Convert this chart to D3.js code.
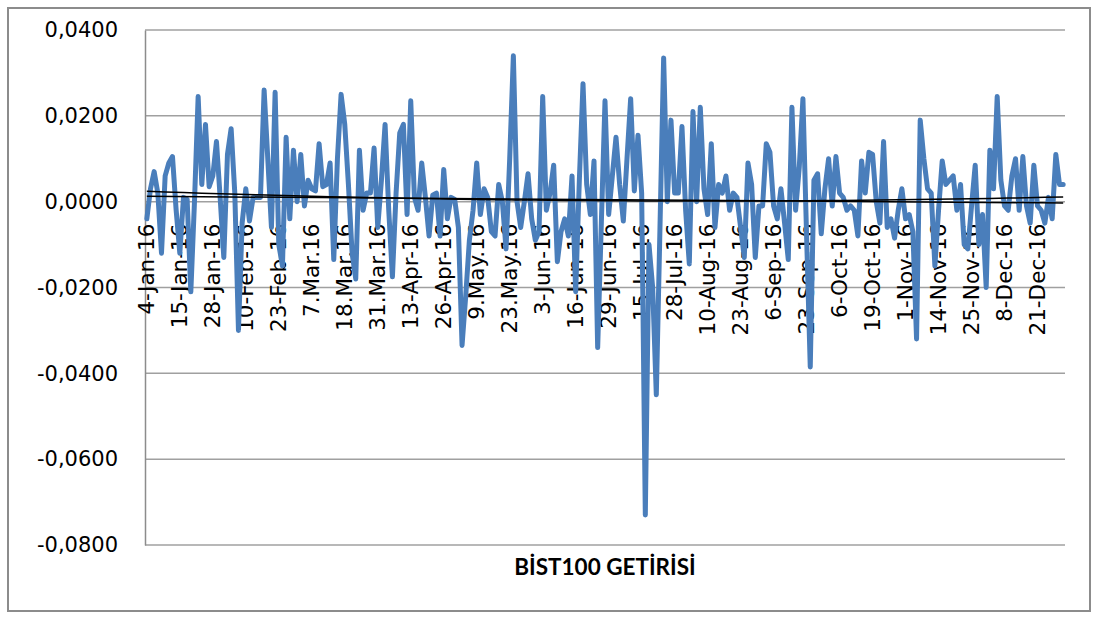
<!DOCTYPE html>
<html>
<head>
<meta charset="utf-8">
<script src="https://cdn.jsdelivr.net/npm/d3@7"></script>
<style>
  body { margin: 0; background: #fff; }
  svg text { font-family: "DejaVu Sans", sans-serif; fill: #000; }
</style>
</head>
<body>
<div id="chart"></div>
<script>
// daily BIST100 returns, 2016
const returns = [
  -0.004, 0.003, 0.007, 0.002, -0.012, 0.006, 0.009, 0.0105, -0.002, -0.012,
  0.001, 0.0005, -0.021, 0.000, 0.0245, 0.004, 0.018, 0.0035, 0.006, 0.014,
  0.001, -0.013, 0.011, 0.017, 0.002, -0.030, -0.005, 0.003, -0.0045, 0.001,
  0.001, 0.001, 0.026, 0.010, -0.006, 0.0255, -0.010, -0.015, 0.015, -0.004,
  0.012, 0.000, 0.011, -0.001, 0.005, 0.003, 0.0025, 0.0135, 0.0035, 0.004,
  0.009, -0.0135, 0.010, 0.025, 0.018, 0.004, -0.012, -0.018, 0.012, -0.002,
  0.002, 0.002, 0.0125, -0.006, 0.005, 0.018, -0.002, -0.0175, 0.002, 0.016,
  0.018, -0.003, 0.0235, 0.001, -0.002, 0.009, 0.001, -0.008, 0.0015, 0.002,
  -0.008, 0.0075, -0.004, 0.001, 0.0005, -0.006, -0.0335, -0.022, -0.009, -0.002,
  0.009, -0.003, 0.003, 0.001, -0.007, -0.008, 0.004, 0.000, -0.011, 0.010,
  0.034, 0.000, -0.006, 0.000, 0.0065, -0.004, -0.009, -0.007, 0.0245, -0.002,
  0.002, 0.0085, -0.014, -0.007, -0.004, -0.008, 0.006, -0.021, 0.005, 0.0275,
  0.004, -0.003, 0.0095, -0.034, -0.005, 0.0235, -0.003, 0.006, 0.015, 0.004,
  -0.0045, 0.010, 0.024, 0.0025, 0.0155, 0.002, -0.073, -0.010, -0.020, -0.045,
  -0.006, 0.0335, 0.000, 0.019, 0.002, 0.002, 0.0175, -0.002, -0.0145, 0.021,
  0.000, 0.022, 0.003, -0.003, 0.0135, -0.006, 0.004, 0.002, 0.006, -0.002,
  0.002, 0.001, -0.006, -0.013, 0.009, 0.004, -0.013, -0.001, -0.001, 0.0135,
  0.0115, -0.001, -0.004, 0.003, -0.005, -0.0135, 0.022, -0.002, 0.008, 0.024,
  -0.008, -0.0385, 0.005, 0.0065, -0.0075, 0.003, 0.010, -0.001, 0.0105, 0.002,
  0.001, -0.002, -0.001, -0.002, -0.008, 0.0095, 0.002, 0.0115, 0.011, 0.000,
  -0.005, 0.014, -0.006, -0.004, -0.0085, -0.002, 0.003, -0.004, -0.003, -0.007,
  -0.032, 0.019, 0.010, 0.003, 0.002, -0.015, -0.002, 0.0095, 0.004, 0.005,
  0.006, -0.002, 0.004, -0.010, -0.011, -0.001, 0.0085, -0.010, -0.003, -0.020,
  0.012, 0.003, 0.0245, 0.005, -0.001, -0.002, 0.006, 0.010, -0.002, 0.0105,
  -0.001, -0.005, 0.0085, -0.001, -0.002, -0.005, 0.001, -0.004, 0.011, 0.004,
  0.004
];

// category labels shown on the axis (one every 9 trading days)
const tickLabels = [
  "4-Jan-16", "15-Jan-16", "28-Jan-16", "10-Feb-16", "23-Feb-16", "7.Mar.16",
  "18.Mar.16", "31.Mar.16", "13-Apr-16", "26-Apr-16", "9.May.16", "23.May.16",
  "3-Jun-16", "16-Jun-16", "29-Jun-16", "15-Jul-16", "28-Jul-16", "10-Aug-16",
  "23-Aug-16", "6-Sep-16", "23-Sep-16", "6-Oct-16", "19-Oct-16", "1-Nov-16",
  "14-Nov-16", "25-Nov-16", "8-Dec-16", "21-Dec-16"
];
const labelStep = 9;

const yTicks = [-0.08, -0.06, -0.04, -0.02, 0, 0.02, 0.04];

// trend lines: linear (first, last) and 2nd order polynomial (first, middle, last)
const linearTrend = [0.00124, -0.0003];
const polyTrend = [0.0024, 0.00022, 0.0011];

const title = "BİST100 GETİRİSİ";

const width = 1097;
const height = 617;
const margin = { top: 30, right: 32, bottom: 72, left: 145 };

const svg = d3
  .select("#chart")
  .append("svg")
  .attr("width", width)
  .attr("height", height);

// outer chart border
svg
  .append("rect")
  .attr("x", 8)
  .attr("y", 8)
  .attr("width", 1082)
  .attr("height", 603)
  .attr("fill", "none")
  .attr("stroke", "#8c8c8c")
  .attr("stroke-width", 2);

const n = returns.length;
const x = d3
  .scaleBand()
  .domain(d3.range(n))
  .range([margin.left, width - margin.right]);
const cx = (i) => x(i) + x.bandwidth() / 2;

const y = d3
  .scaleLinear()
  .domain([-0.08, 0.04])
  .range([height - margin.bottom, margin.top]);

const trLocale = d3.formatLocale({
  decimal: ",",
  thousands: ".",
  grouping: [3],
  currency: ["", ""],
  minus: "-",
});
const fmt = trLocale.format(".4f");

// gridlines
svg
  .append("g")
  .selectAll("line")
  .data(yTicks)
  .enter()
  .append("line")
  .attr("x1", margin.left)
  .attr("x2", width - margin.right)
  .attr("y1", (d) => y(d))
  .attr("y2", (d) => y(d))
  .attr("stroke", "#a0a0a0")
  .attr("stroke-width", 1.5);

// y axis
const yAxis = d3.axisLeft(y).tickValues(yTicks).tickFormat(fmt).tickSize(0).tickPadding(27);
const gy = svg
  .append("g")
  .attr("transform", `translate(${margin.left}, 0)`)
  .call(yAxis);
gy.select(".domain").attr("stroke", "#8c8c8c").attr("stroke-width", 1.5);
gy.selectAll("text").style("font-size", "21px").style("font-family", "DejaVu Sans");

// x axis (crosses at zero), labels hang below it
const labelIdx = tickLabels.map((d, k) => k * labelStep);
const xAxis = d3
  .axisBottom(x)
  .tickValues(labelIdx)
  .tickFormat((d) => tickLabels[d / labelStep])
  .tickSize(0);
const gx = svg
  .append("g")
  .attr("transform", `translate(0, ${y(0)})`)
  .call(xAxis);
gx.select(".domain").remove();
gx.selectAll("text")
  .attr("transform", "rotate(-90)")
  .attr("text-anchor", "end")
  .attr("x", -22)
  .attr("y", 0)
  .attr("dy", "0.35em")
  .style("font-size", "21.5px")
  .style("font-family", "DejaVu Sans");

// return series
const line = d3
  .line()
  .x((d, i) => cx(i))
  .y((d) => y(d));

svg
  .append("path")
  .datum(returns)
  .attr("d", line)
  .attr("fill", "none")
  .attr("stroke", "#4a7ebb")
  .attr("stroke-width", 5)
  .attr("stroke-linejoin", "round")
  .attr("stroke-linecap", "round");

// trend lines
const last = n - 1;
const linTrendPts = [
  [cx(0), y(linearTrend[0])],
  [cx(last), y(linearTrend[1])],
];
svg
  .append("path")
  .attr("d", d3.line()(linTrendPts))
  .attr("fill", "none")
  .attr("stroke", "#000")
  .attr("stroke-width", 1.5);

// quadratic through the three read values
const [p0, p1, p2] = polyTrend;
const quad = (t) =>
  p0 * 2 * (t - 0.5) * (t - 1) - p1 * 4 * t * (t - 1) + p2 * 2 * t * (t - 0.5);
const polyPts = d3.range(0, 1.0001, 0.02).map((t) => [cx(0) + t * (cx(last) - cx(0)), y(quad(t))]);
svg
  .append("path")
  .attr("d", d3.line()(polyPts))
  .attr("fill", "none")
  .attr("stroke", "#000")
  .attr("stroke-width", 1.5);

// title under the plot
svg
  .append("text")
  .attr("x", 605)
  .attr("y", 575)
  .attr("text-anchor", "middle")
  .style("font-family", "Lato, sans-serif")
  .style("font-size", "22.5px")
  .style("font-weight", "bold")
  .text(title);
</script>
</body>
</html>
